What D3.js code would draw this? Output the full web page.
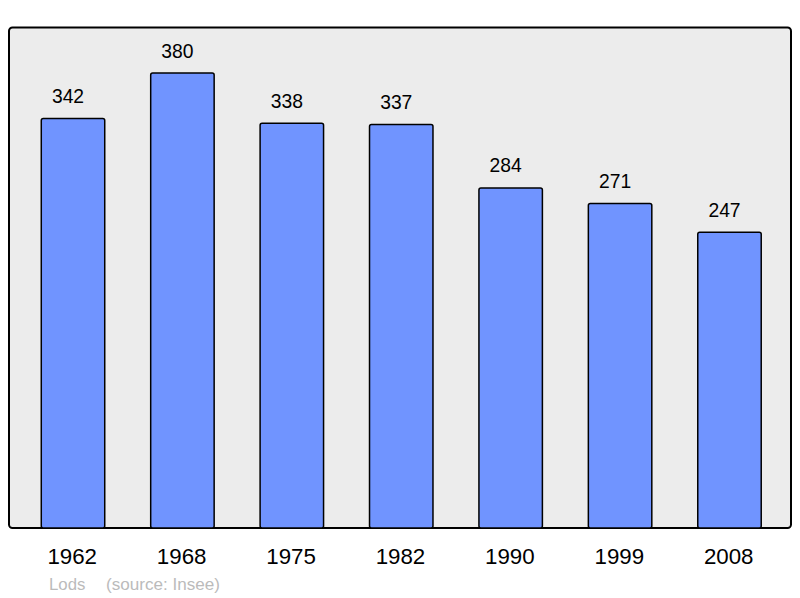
<!DOCTYPE html>
<html><head><meta charset="utf-8">
<script src="https://cdn.jsdelivr.net/npm/d3@7"></script>
<style>body{margin:0;background:#fff}svg{display:block}text{font-family:"Liberation Sans",Arial,sans-serif}</style>
</head><body>
<script>
const years = ["1962","1968","1975","1982","1990","1999","2008"];
const population = [342,380,338,337,284,271,247];
const placeName = "Lods";
const sourceText = "(source: Insee)";

const W = 800, H = 598;
const svg = d3.select("body").append("svg").attr("width", W).attr("height", H);

svg.append("rect").attr("x", 9).attr("y", 27.5).attr("width", 782).attr("height", 500.5)
  .attr("rx", 3.5).attr("fill", "#ececec").attr("stroke", "#000").attr("stroke-width", 2);

const x = d3.scaleBand().domain(years).range([18.3, 784.2]).paddingInner(0.42).paddingOuter(0.21);
const y = d3.scaleLinear().domain([0, 380]).range([528, 73]);

svg.selectAll("rect.bar").data(population).join("rect").attr("class","bar")
  .attr("x", (d,i) => x(years[i])).attr("y", d => y(d))
  .attr("width", x.bandwidth()).attr("height", d => y(0) - y(d))
  .attr("rx", 2).attr("fill", "#7094ff").attr("stroke", "#000").attr("stroke-width", 1.5);

svg.selectAll("text.val").data(population).join("text").attr("class","val")
  .attr("x", (d,i) => x(years[i]) + x.bandwidth()/2 - 5).attr("y", d => y(d) - 15.5)
  .attr("text-anchor","middle").attr("font-size", 19.3).attr("fill","#000").text(d => d);

const xAxis = svg.append("g").attr("transform","translate(-0.8,528)")
  .call(d3.axisBottom(x).tickSize(0).tickPadding(0));
xAxis.select(".domain").remove();
xAxis.selectAll("text").attr("dy", null).attr("y", 36).attr("font-size", 22.3).attr("fill","#000")
  .style("font-family", '"Liberation Sans",Arial,sans-serif');

svg.append("text").attr("x", 49).attr("y", 590).attr("font-size", 16.8).attr("fill","#bbb").text(placeName);
svg.append("text").attr("x", 106).attr("y", 590).attr("font-size", 17.1).attr("fill","#bbb").text(sourceText);
</script>
</body></html>
